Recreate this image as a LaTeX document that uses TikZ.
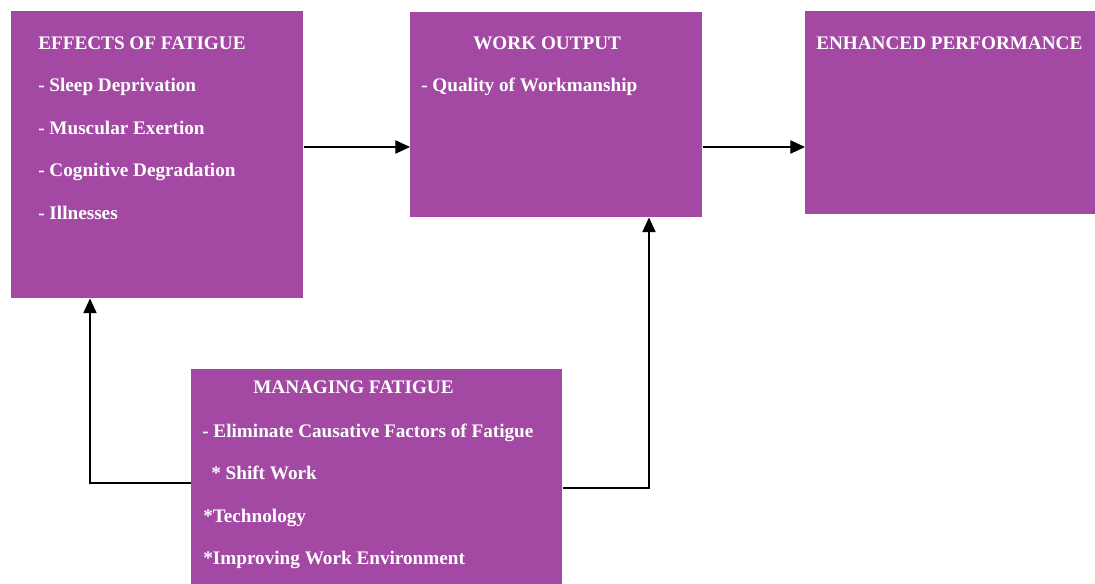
\documentclass[tikz,border=0pt]{standalone}
\usepackage{fontspec}
\setmainfont{Liberation Serif}[BoldFont={Liberation Serif Bold}]
\usetikzlibrary{arrows.meta}
\definecolor{boxpurple}{RGB}{163,73,164}
\tikzset{
  box/.style={rectangle, fill=boxpurple, draw=none, anchor=north west, inner sep=0pt},
  lbl/.style={anchor=base west, inner sep=0pt, text=white, font=\fontsize{14.4}{16}\selectfont\bfseries},
  arr/.style={line width=.8pt, -{Triangle[length=11pt,width=10pt]}}
}
\begin{document}
\begin{tikzpicture}[x=.75pt,y=-.75pt]
    \useasboundingbox (0,0) rectangle (1095,584);

    \node[box, minimum width=292*.75pt, minimum height=287*.75pt] (effects) at (11,11) {};
    \node[box, minimum width=292*.75pt, minimum height=205*.75pt] (output) at (410,12) {};
    \node[box, minimum width=290*.75pt, minimum height=203*.75pt] (perf) at (805,11) {};
    \node[box, minimum width=371*.75pt, minimum height=215*.75pt] (manage) at (191,369) {};

    \node[lbl] (e0) at (38,50) {EFFECTS OF FATIGUE};
    \node[lbl] (e1) at (38,92) {- Sleep Deprivation};
    \node[lbl] (e2) at (38,135) {- Muscular Exertion};
    \node[lbl] (e3) at (38,177) {- Cognitive Degradation};
    \node[lbl] (e4) at (38,220) {- Illnesses};

    \node[lbl] (o0) at (473,50) {WORK OUTPUT};
    \node[lbl] (o1) at (421,92) {- Quality of Workmanship};

    \node[lbl] (p0) at (816,50) {ENHANCED PERFORMANCE};

    \node[lbl] (m0) at (253,393) {MANAGING FATIGUE};
    \node[lbl] (m1) at (202,437) {- Eliminate Causative Factors of Fatigue};
    \node[lbl] (m2) at (203,479) {\ \,* Shift Work};
    \node[lbl] (m3) at (203,522) {*Technology};
    \node[lbl] (m4) at (203,564) {*Improving Work Environment};

    \draw[arr] (effects.east |- 0,147) -- (output.west |- 0,147);
    \draw[arr] (output.east |- 0,147) -- (perf.west |- 0,147);
    \draw[arr] (manage.west |- 0,483) -| (90,0 |- effects.south);
    \draw[arr] (manage.east |- 0,488) -| (649,0 |- output.south);

\end{tikzpicture}
\end{document}
